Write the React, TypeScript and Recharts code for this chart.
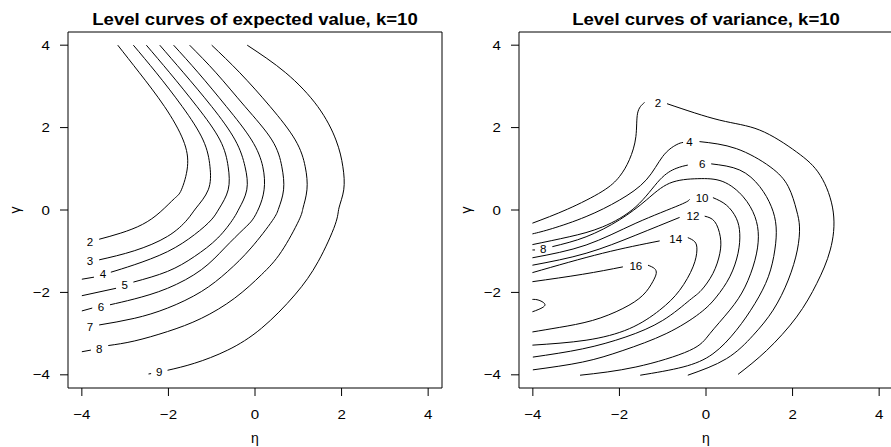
import React from 'react';
import { ComposedChart, Line, Scatter, XAxis, YAxis, ReferenceArea } from 'recharts';

const ticks = [-4, -2, 0, 2, 4];
const lim = 4.32;
const font = "'Liberation Sans', Arial, Helvetica, sans-serif";
const stretch = 1.16;

// level curves of expected value, [eta, gamma]
const ev2 = [[-3.17, 4.0], [-2.67, 3.33], [-2.09, 2.51], [-1.66, 1.7], [-1.56, 1.05], [-1.7, 0.49], [-1.86, 0.28], [-2.19, -0.05], [-2.6, -0.35], [-3.1, -0.56], [-3.6, -0.71]];
const ev3 = [[-2.81, 4.0], [-2.28, 3.33], [-1.68, 2.51], [-1.2, 1.7], [-1.04, 1.05], [-1.08, 0.49], [-1.36, 0.05], [-1.57, -0.24], [-2.02, -0.64], [-2.79, -0.99], [-3.6, -1.21]];
const ev4 = [[-2.51, 4.0], [-1.97, 3.33], [-1.34, 2.51], [-0.81, 1.7], [-0.62, 1.05], [-0.62, 0.49], [-0.82, 0.05], [-1.01, -0.24], [-1.4, -0.6], [-2.02, -1.01], [-2.79, -1.33], [-3.33, -1.51]];
const ev4b = [[-3.72, -1.63], [-4.0, -1.68]];
const ev5 = [[-2.2, 4.0], [-1.65, 3.33], [-1.0, 2.51], [-0.46, 1.7], [-0.23, 1.05], [-0.19, 0.49], [-0.36, 0.05], [-0.5, -0.21], [-0.86, -0.68], [-1.4, -1.13], [-2.02, -1.49], [-2.81, -1.75]];
const ev5b = [[-3.21, -1.9], [-4.0, -2.08]];
const ev6 = [[-1.88, 4.0], [-1.31, 3.33], [-0.66, 2.51], [-0.08, 1.7], [0.18, 1.05], [0.21, 0.49], [0.09, 0.05], [-0.06, -0.24], [-0.26, -0.46], [-0.7, -0.92], [-1.24, -1.45], [-2.02, -1.9], [-2.79, -2.16], [-3.35, -2.3]];
const ev6b = [[-3.76, -2.38], [-4.0, -2.45]];
const ev7 = [[-1.51, 4.0], [-0.9, 3.33], [-0.23, 2.51], [0.39, 1.7], [0.62, 1.05], [0.66, 0.49], [0.55, 0.05], [0.4, -0.26], [-0.09, -0.92], [-0.63, -1.49], [-1.24, -1.98], [-2.02, -2.38], [-2.79, -2.63], [-3.6, -2.79]];
const ev8 = [[-1.0, 4.0], [-0.35, 3.33], [0.35, 2.51], [0.93, 1.7], [1.16, 1.05], [1.2, 0.49], [1.11, 0.05], [1.01, -0.26], [0.61, -1.01], [0.15, -1.57], [-0.47, -2.14], [-1.24, -2.63], [-2.02, -2.95], [-2.79, -3.18], [-3.39, -3.29]];
const ev8b = [[-3.79, -3.4], [-4.0, -3.44]];
const ev9 = [[-0.18, 4.0], [0.71, 3.33], [1.45, 2.51], [1.87, 1.7], [2.03, 1.05], [2.05, 0.49], [1.94, 0.05], [1.85, -0.36], [1.46, -1.25], [0.92, -2.06], [0.15, -2.87], [-0.63, -3.4], [-1.4, -3.72], [-2.02, -3.89]];
const ev9b = [[-2.4, -3.97], [-2.46, -3.98]];
const evLabels = [
  { x: -3.81, y: -0.78, t: '2' }, { x: -3.81, y: -1.25, t: '3' }, { x: -3.51, y: -1.57, t: '4' },
  { x: -3.01, y: -1.83, t: '5' }, { x: -3.56, y: -2.35, t: '6' }, { x: -3.81, y: -2.84, t: '7' },
  { x: -3.6, y: -3.37, t: '8' }, { x: -2.21, y: -3.94, t: '9' },
];

// level curves of variance
const v2a = [[-4.01, -0.32], [-3.2, 0.02], [-2.4, 0.45], [-2.0, 0.81], [-1.77, 1.22], [-1.62, 1.78], [-1.58, 2.35], [-1.42, 2.61]];
const v2b = [[-0.9, 2.58], [0.32, 2.18], [1.24, 1.94], [2.09, 1.41], [2.64, 0.84], [2.94, -0.05], [2.87, -0.97], [2.56, -1.78], [2.09, -2.6], [1.4, -3.41], [0.74, -3.99]];
const v4a = [[-4.01, -0.58], [-3.55, -0.45], [-2.77, -0.16], [-2.0, 0.24], [-1.38, 0.73], [-1.0, 1.3], [-0.69, 1.58], [-0.53, 1.64]];
const v4b = [[-0.15, 1.66], [0.7, 1.49], [1.48, 1.05], [1.9, 0.57], [2.09, 0.0], [2.16, -0.41], [2.11, -0.97], [1.9, -1.7], [1.55, -2.43], [1.09, -3.04], [0.47, -3.61], [-0.42, -4.01]];
const v6a = [[-4.01, -0.84], [-3.16, -0.65], [-2.39, -0.41], [-1.62, 0.08], [-1.07, 0.73], [-0.69, 1.01], [-0.42, 1.09]];
const v6b = [[0.12, 1.12], [0.78, 0.97], [1.24, 0.57], [1.51, 0.08], [1.62, -0.41], [1.59, -0.97], [1.44, -1.62], [1.13, -2.27], [0.7, -2.92], [0.16, -3.49], [-0.53, -3.81], [-1.52, -4.01]];
const v8a = [[-4.01, -0.97], [-3.95, -0.97]];
const v8b = [[-3.55, -0.89], [-2.77, -0.65], [-2.0, -0.24], [-1.38, 0.24], [-0.84, 0.65], [-0.19, 0.76], [0.39, 0.69], [0.86, 0.32], [1.13, -0.16], [1.21, -0.65], [1.13, -1.22], [0.9, -1.87], [0.55, -2.43], [0.09, -3.0], [-0.38, -3.41], [-1.62, -3.81], [-2.91, -4.01]];
const v10a = [[-4.01, -1.16], [-2.77, -0.85], [-1.62, -0.32], [-0.61, 0.12], [-0.38, 0.26]];
const v10b = [[0.16, 0.3], [0.47, 0.12], [0.7, -0.2], [0.78, -0.57], [0.74, -1.05], [0.55, -1.62], [0.24, -2.11], [-0.15, -2.51], [-0.92, -3.0], [-1.92, -3.41], [-2.85, -3.69], [-4.0, -3.88]];
const v12a = [[-4.01, -1.34], [-2.77, -1.05], [-1.62, -0.61], [-0.61, -0.18]];
const v12b = [[-0.03, -0.15], [0.2, -0.28], [0.33, -0.65], [0.32, -1.05], [0.16, -1.54], [-0.11, -1.95], [-0.38, -2.19], [-1.0, -2.68], [-1.85, -3.08], [-2.85, -3.37], [-4.0, -3.57]];
const v14a = [[-4.01, -1.52], [-2.39, -1.05], [-1.07, -0.75]];
const v14b = [[-0.42, -0.67], [-0.26, -0.77], [-0.21, -0.97], [-0.3, -1.38], [-0.61, -1.95], [-1.07, -2.43], [-1.77, -2.88], [-2.77, -3.16], [-4.01, -3.28]];
const v16a = [[-4.01, -1.74], [-2.85, -1.56], [-1.92, -1.38]];
const v16b = [[-1.34, -1.34], [-1.19, -1.42], [-1.15, -1.54], [-1.23, -1.74], [-1.46, -2.07], [-1.92, -2.39], [-2.62, -2.68], [-3.39, -2.85], [-4.01, -2.96]];
const v18 = [[-4.01, -2.17], [-3.86, -2.19], [-3.72, -2.3], [-3.86, -2.41], [-4.01, -2.47]];
const vLabels = [
  { x: -1.11, y: 2.58, t: '2' }, { x: -0.38, y: 1.65, t: '4' }, { x: -0.09, y: 1.12, t: '6' },
  { x: -3.76, y: -0.96, t: '8' }, { x: -0.09, y: 0.29, t: '10' }, { x: -0.3, y: -0.16, t: '12' },
  { x: -0.7, y: -0.7, t: '14' }, { x: -1.62, y: -1.36, t: '16' },
];

const evSegments = [ev2, ev3, ev4, ev4b, ev5, ev5b, ev6, ev6b, ev7, ev8, ev8b, ev9, ev9b];
const vSegments = [v2a, v2b, v4a, v4b, v6a, v6b, v8a, v8b, v10a, v10b, v12a, v12b, v14a, v14b, v16a, v16b, v18];

const toPts = (arr: number[][]) => arr.map(([x, y]) => ({ x, y }));
const fmt = (v: number) => (v < 0 ? `\u2212${-v}` : `${v}`);

const renderLabel = (props: any) => (
  <g transform={`translate(${props.cx},${props.cy}) scale(${stretch},1)`}>
    <text x={0} y={0} textAnchor="middle" dominantBaseline="central" fontSize={10} fontFamily={font} fill="#000">
      {props.payload.t}
    </text>
  </g>
);

const AxisTick = (props: any) => {
  const { x, y, payload, textAnchor, verticalAnchor } = props;
  return (
    <g transform={`translate(${x},${y}) scale(${stretch},1)`}>
      <text x={0} y={0} dy={verticalAnchor === 'start' ? '0.71em' : '0.355em'} textAnchor={textAnchor}
        fontSize={13} fontFamily={font} fill="#000">
        {fmt(payload.value)}
      </text>
    </g>
  );
};

function Panel({ title, segments, labels, left }: { title: string; segments: number[][][]; labels: any[]; left: number }) {
  return (
    <div style={{ position: 'absolute', left, top: 0, width: 450, height: 447 }}>
      <div style={{ position: 'absolute', left: 68, width: 374, top: 11.5, textAlign: 'center', fontFamily: font, fontWeight: 'bold', fontSize: 16, lineHeight: '16px', transform: `scaleX(${stretch})`, whiteSpace: 'nowrap' }}>
        {title}
      </div>
      <div style={{ position: 'absolute', left: 68, width: 374, top: 431, textAlign: 'center', fontFamily: font, fontSize: 14, lineHeight: '14px' }}>η</div>
      <div style={{ position: 'absolute', left: 5, top: 203, width: 20, textAlign: 'center', fontFamily: font, fontSize: 14, lineHeight: '14px', transform: 'rotate(-90deg)' }}>γ</div>
      <ComposedChart width={450} height={447} margin={{ top: 32, right: 8, bottom: 0, left: 0 }}>
        <XAxis dataKey="x" type="number" domain={[-lim, lim]} ticks={ticks} interval={0} allowDataOverflow
          axisLine={false} tickLine={{ stroke: '#000' }} tickSize={8} tickMargin={14} height={59}
          tick={<AxisTick />} />
        <YAxis type="number" domain={[-lim, lim]} ticks={ticks} interval={0} allowDataOverflow
          axisLine={false} tickLine={{ stroke: '#000' }} tickSize={8} tickMargin={10} width={68}
          tick={<AxisTick />} />
        <ReferenceArea x1={-lim} x2={lim} y1={-lim} y2={lim} fill="none" stroke="#000" strokeWidth={1} fillOpacity={0} />
        {segments.map((s, i) => (
          <Line key={i} data={toPts(s)} dataKey="y" type="natural" stroke="#000" strokeWidth={1}
            dot={false} activeDot={false} isAnimationActive={false} />
        ))}
        <Scatter data={labels} dataKey="y" shape={renderLabel} isAnimationActive={false} />
      </ComposedChart>
    </div>
  );
}

export default function App() {
  return (
    <div style={{ position: 'absolute', left: 0, top: 0, width: 891, height: 447, overflow: 'hidden', background: '#fff' }}>
      <Panel title="Level curves of expected value, k=10" segments={evSegments} labels={evLabels} left={0} />
      <Panel title="Level curves of variance, k=10" segments={vSegments} labels={vLabels} left={451} />
    </div>
  );
}
